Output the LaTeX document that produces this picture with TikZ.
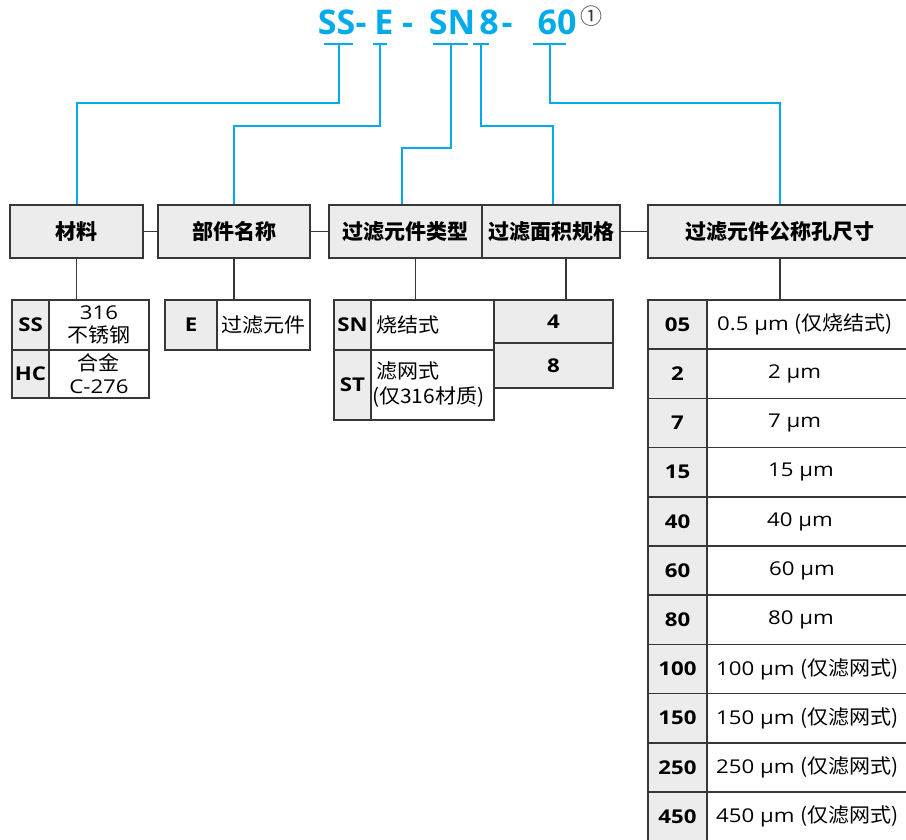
\documentclass[tikz,border=0pt]{standalone}
\usepackage{fontspec}
\setmainfont{Open Sans}
\newfontfamily\cjk{Noto Sans CJK SC}
\newfontfamily\tabfont{Open Sans}[FakeStretch=1.17]
\newfontfamily\cjktab{Noto Sans CJK SC}[FakeStretch=1.05]
\newcommand{\zh}[1]{{\cjktab\fontsize{20}{23}\selectfont #1}}
\definecolor{codeblue}{RGB}{0,170,235}
\definecolor{cellgray}{RGB}{236,236,236}
\definecolor{rulegray}{RGB}{55,55,55}

\begin{document}
\begin{tikzpicture}
[x=1pt, y=-1pt,
 codeline/.style={codeblue, line width=2pt},
 link/.style={rulegray, line width=1.5pt},
 codetext/.style={codeblue, inner sep=0pt, anchor=base, font=\bfseries\fontsize{34}{36}\selectfont},
 headbox/.style={draw=rulegray, fill=cellgray, line width=1.5pt, minimum height=53pt, inner sep=0pt, font=\cjk\bfseries\fontsize{21}{25}\selectfont},
 keycell/.style={draw=rulegray, fill=cellgray, line width=1.5pt, inner sep=0pt, font=\tabfont\bfseries\fontsize{19}{23}\selectfont},
 valcell/.style={draw=rulegray, fill=white, line width=1.5pt, inner sep=0pt, align=center, font=\tabfont\fontsize{19}{23}\selectfont},
 valtext/.style={inner sep=0pt, anchor=west, align=left, font=\tabfont\fontsize{19}{25}\selectfont}]

\useasboundingbox (0,0) rectangle (906,840);
\clip (0,0) rectangle (906,840);
\fill[white] (0,0) rectangle (906,840);
%________________________________________________%
% order code
\node[codetext] (css) at (336.5,35) {SS};
\node[codetext] (cd1) at (361,35) {-};
\node[codetext] (ce) at (384,35) {E};
\node[codetext] (cd2) at (407.5,35) {-};
\node[codetext] (csn) at (452,35) {SN};
\node[codetext] (c8) at (489,35) {8};
\node[codetext] (cd3) at (507,35) {-};
\node[codetext] (c60) at (557,35) {60};
\node[rulegray, inner sep=0pt, font=\cjk\fontsize{22}{24}\selectfont] (cnote) at (591,16) {①};
\coordinate (bss) at (338.5,44);
\coordinate (be) at (380,44);
\coordinate (bsn) at (450.5,44);
\coordinate (b8) at (481,44);
\coordinate (b60) at (549.5,44);
%________________________________________________%
% headings
\node[headbox, minimum width=133pt] (hmat) at (76.5,231.5) {材料};
\node[headbox, minimum width=152pt] (hname) at (234,231.5) {部件名称};
\node[headbox, minimum width=153pt] (htype) at (405.5,231.5) {过滤元件类型};
\node[headbox, minimum width=138pt] (harea) at (551,231.5) {过滤面积规格};
\node[headbox, minimum width=264pt] (hpore) at (780,231.5) {过滤元件公称孔尺寸};
%________________________________________________%
% code to heading
\draw[codeline] ([xshift=-14.5pt]bss) -- ([xshift=14.5pt]bss);
\draw[codeline] ([xshift=-7pt]be) -- ([xshift=7pt]be);
\draw[codeline] ([xshift=-17.5pt]bsn) -- ([xshift=17.5pt]bsn);
\draw[codeline] ([xshift=-8pt]b8) -- ([xshift=8pt]b8);
\draw[codeline] ([xshift=-16.5pt]b60) -- ([xshift=16.5pt]b60);
\draw[codeline] (bss) -- ++(0,59) -| (hmat.north);
\draw[codeline] (be) -- ++(0,82) -| (hname.north);
\draw[codeline] (bsn) -- ++(0,104) -| ([xshift=-4pt]htype.north);
\draw[codeline] (b8) -- ++(0,82) -| ([xshift=2pt]harea.north);
\draw[codeline] (b60) -- ++(0,59) -| (hpore.north);
%________________________________________________%
% material
\node[valcell, minimum width=100pt, minimum height=50pt] (vss) at (99,325) {316\\\zh{不锈钢}};
\node[valcell, minimum width=100pt, minimum height=48pt] (vhc) at (99,374) {\zh{合金}\\C-276};
\node[keycell, minimum width=37pt, minimum height=50pt] (kss) at (30.5,325) {SS};
\node[keycell, minimum width=37pt, minimum height=48pt] (khc) at (30.5,374) {HC};
%________________________________________________%
% part name
\node[valcell, minimum width=93pt, minimum height=50pt] (ve) at (263.5,325) {\zh{过滤元件}};
\node[keycell, minimum width=52pt, minimum height=50pt] (ke) at (191,325) {E};
%________________________________________________%
% element type
\node[valcell, minimum width=123pt, minimum height=50pt] (vsn) at (432.5,325) {};
\node[valcell, minimum width=123pt, minimum height=70pt] (vst) at (432.5,385) {};
\node[keycell, minimum width=37pt, minimum height=50pt] (ksn) at (352.5,325) {SN};
\node[keycell, minimum width=37pt, minimum height=70pt] (kst) at (352.5,385) {ST};
\node[valtext] (tsn) at (376,325) {\zh{烧结式}};
\node[valtext] (tst) at (372,385) {\hspace{4pt}\zh{滤网式}\\\zh{(仅316材质)}};
%________________________________________________%
% filter area
\node[keycell, minimum width=119pt, minimum height=43pt] (k4) at (553.5,321.5) {4};
\node[keycell, minimum width=119pt, minimum height=45pt] (k8) at (553.5,365.5) {8};
%________________________________________________%
% pore size
\node[valcell, minimum width=213pt, minimum height=49.2pt] (v05) at (813.5,324.6) {};
\node[valcell, minimum width=213pt, minimum height=49.2pt] (v2) at (813.5,373.8) {};
\node[valcell, minimum width=213pt, minimum height=49.2pt] (v7) at (813.5,423) {};
\node[valcell, minimum width=213pt, minimum height=49.2pt] (v15) at (813.5,472.2) {};
\node[valcell, minimum width=213pt, minimum height=49.2pt] (v40) at (813.5,521.4) {};
\node[valcell, minimum width=213pt, minimum height=49.2pt] (v60) at (813.5,570.6) {};
\node[valcell, minimum width=213pt, minimum height=49.2pt] (v80) at (813.5,619.8) {};
\node[valcell, minimum width=213pt, minimum height=49.2pt] (v100) at (813.5,669) {};
\node[valcell, minimum width=213pt, minimum height=49.2pt] (v150) at (813.5,718.2) {};
\node[valcell, minimum width=213pt, minimum height=49.2pt] (v250) at (813.5,767.4) {};
\node[valcell, minimum width=213pt, minimum height=49.2pt] (v450) at (813.5,816.6) {};
\node[keycell, minimum width=59pt, minimum height=49.2pt] (k05) at (677.5,324.6) {05};
\node[keycell, minimum width=59pt, minimum height=49.2pt] (k2) at (677.5,373.8) {2};
\node[keycell, minimum width=59pt, minimum height=49.2pt] (k7) at (677.5,423) {7};
\node[keycell, minimum width=59pt, minimum height=49.2pt] (k15) at (677.5,472.2) {15};
\node[keycell, minimum width=59pt, minimum height=49.2pt] (k40) at (677.5,521.4) {40};
\node[keycell, minimum width=59pt, minimum height=49.2pt] (k60) at (677.5,570.6) {60};
\node[keycell, minimum width=59pt, minimum height=49.2pt] (k80) at (677.5,619.8) {80};
\node[keycell, minimum width=59pt, minimum height=49.2pt] (k100) at (677.5,669) {100};
\node[keycell, minimum width=59pt, minimum height=49.2pt] (k150) at (677.5,718.2) {150};
\node[keycell, minimum width=59pt, minimum height=49.2pt] (k250) at (677.5,767.4) {250};
\node[keycell, minimum width=59pt, minimum height=49.2pt] (k450) at (677.5,816.6) {450};
\node[valtext] (t05) at (717,324.6) {0.5 μm \zh{(仅烧结式)}};
\node[valtext] (t2) at (768,373.8) {2 μm};
\node[valtext] (t7) at (768,423) {7 μm};
\node[valtext] (t15) at (768,472.2) {15 μm};
\node[valtext] (t40) at (767,521.4) {40 μm};
\node[valtext] (t60) at (769,570.6) {60 μm};
\node[valtext] (t80) at (768,619.8) {80 μm};
\node[valtext] (t100) at (716,669) {100 μm \zh{(仅滤网式)}};
\node[valtext] (t150) at (716,718.2) {150 μm \zh{(仅滤网式)}};
\node[valtext] (t250) at (716,767.4) {250 μm \zh{(仅滤网式)}};
\node[valtext] (t450) at (716,816.6) {450 μm \zh{(仅滤网式)}};
%________________________________________________%
% heading links
\draw[link] (hmat.east) -- (hname.west);
\draw[link] (hname.east) -- (htype.west);
\draw[link] (harea.east) -- (hpore.west);
\draw[link] (hmat.south) -- (hmat.south |- vss.north);
\draw[link] (hname.south) -- (hname.south |- ve.north);
\draw[link] ([xshift=10pt]htype.south) -- ([xshift=10pt]htype.south |- vsn.north);
\draw[link] ([xshift=15pt]harea.south) -- ([xshift=15pt]harea.south |- k4.north);
\draw[link] (hpore.south) -- (hpore.south |- v05.north);
%________________________________________________%
\end{tikzpicture}
\end{document}
